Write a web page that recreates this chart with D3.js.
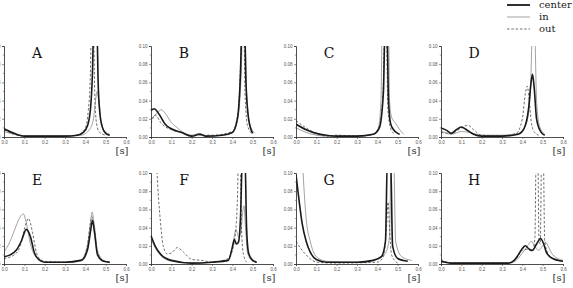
<!DOCTYPE html>
<html>
<head>
<meta charset="utf-8">
<script src="https://cdn.jsdelivr.net/npm/d3@7"></script>
<style>
  body { margin: 0; background: #fff; }
  svg { display: block; }
  .tick text { font-family: "Liberation Sans", sans-serif; font-size: 4.5px; fill: #555; }
  .serif { font-family: "DejaVu Serif", serif; }
</style>
</head>
<body>
<div id="chart"></div>
<script>
// panel letters and series names
const letters = ['A', 'B', 'C', 'D', 'E', 'F', 'G', 'H'];
const seriesNames = ['center', 'in', 'out'];
const xTicks = [0, 0.1, 0.2, 0.3, 0.4, 0.5, 0.6];
const yTicks = [0, 0.02, 0.04, 0.06, 0.08, 0.10];

// values, [time s, value]
const aCenter = [[0,0.009],[0.05,0.004],[0.1,0.001],[0.2,0.001],[0.3,0.001],[0.36,0.002],[0.39,0.005],[0.41,0.012],[0.425,0.03],[0.435,0.07],[0.441,0.12],[0.457,0.12],[0.463,0.06],[0.472,0.025],[0.482,0.012],[0.5,0.004],[0.52,0.002]];
const aIn = [[0,0.006],[0.05,0.003],[0.1,0.001],[0.3,0.001],[0.38,0.002],[0.42,0.008],[0.44,0.02],[0.45,0.04],[0.458,0.05],[0.466,0.04],[0.476,0.02],[0.49,0.008],[0.52,0.003]];
const aOut = [[0,0.008],[0.05,0.003],[0.1,0.001],[0.3,0.001],[0.37,0.003],[0.4,0.01],[0.415,0.03],[0.425,0.07],[0.43,0.12],[0.44,0.12],[0.446,0.05],[0.455,0.015],[0.47,0.005],[0.5,0.002]];

const bCenter = [[0,0.029],[0.015,0.031],[0.04,0.025],[0.07,0.014],[0.1,0.009],[0.15,0.005],[0.2,0.001],[0.24,0.003],[0.27,0.001],[0.35,0.002],[0.4,0.005],[0.425,0.02],[0.44,0.07],[0.447,0.12],[0.46,0.12],[0.467,0.06],[0.48,0.02],[0.5,0.004]];
const bIn = [[0,0.02],[0.03,0.026],[0.05,0.03],[0.07,0.026],[0.1,0.016],[0.13,0.01],[0.16,0.005],[0.2,0.002],[0.24,0.004],[0.27,0.001],[0.35,0.002],[0.4,0.005],[0.43,0.025],[0.445,0.08],[0.45,0.12],[0.462,0.12],[0.47,0.05],[0.485,0.015],[0.51,0.004]];
const bOut = [[0,0.015],[0.021,0.024],[0.05,0.015],[0.1,0.008],[0.15,0.005],[0.2,0.001],[0.24,0.002],[0.3,0.002],[0.4,0.006],[0.43,0.03],[0.442,0.09],[0.447,0.12],[0.457,0.12],[0.462,0.05],[0.475,0.012],[0.5,0.003]];

const cCenter = [[0,0.014],[0.05,0.008],[0.1,0.004],[0.15,0.002],[0.2,0.001],[0.3,0.001],[0.38,0.003],[0.41,0.01],[0.43,0.05],[0.438,0.12],[0.447,0.12],[0.455,0.04],[0.465,0.015],[0.48,0.008],[0.5,0.004],[0.51,0.003]];
const cIn = [[0,0.01],[0.05,0.005],[0.1,0.002],[0.15,0.001],[0.3,0.001],[0.38,0.003],[0.405,0.01],[0.418,0.04],[0.424,0.12],[0.455,0.12],[0.46,0.04],[0.47,0.022],[0.49,0.015],[0.51,0.008],[0.53,0.003]];
const cOut = [[0,0.018],[0.05,0.01],[0.1,0.004],[0.15,0.001],[0.2,0.002],[0.3,0.001],[0.38,0.003],[0.41,0.012],[0.428,0.05],[0.436,0.12],[0.444,0.12],[0.452,0.03],[0.465,0.01],[0.48,0.004]];

const dCenter = [[0,0.01],[0.03,0.007],[0.05,0.004],[0.075,0.008],[0.1,0.011],[0.125,0.008],[0.16,0.003],[0.2,0.001],[0.3,0.001],[0.38,0.003],[0.41,0.01],[0.43,0.03],[0.443,0.06],[0.45,0.069],[0.458,0.055],[0.47,0.02],[0.49,0.006],[0.51,0.002]];
const dIn = [[0,0.007],[0.05,0.003],[0.1,0.006],[0.14,0.005],[0.2,0.002],[0.3,0.002],[0.38,0.004],[0.42,0.015],[0.44,0.05],[0.45,0.12],[0.46,0.12],[0.47,0.04],[0.485,0.012],[0.51,0.003]];
const dOut = [[0,0.005],[0.05,0.004],[0.1,0.01],[0.132,0.013],[0.16,0.008],[0.2,0.002],[0.3,0.001],[0.37,0.004],[0.4,0.02],[0.415,0.048],[0.424,0.056],[0.432,0.045],[0.445,0.015],[0.46,0.005],[0.48,0.002]];

const eCenter = [[0,0.008],[0.03,0.01],[0.06,0.015],[0.085,0.025],[0.11,0.038],[0.13,0.03],[0.15,0.012],[0.17,0.005],[0.2,0.002],[0.3,0.002],[0.38,0.004],[0.41,0.015],[0.425,0.035],[0.435,0.048],[0.445,0.035],[0.46,0.01],[0.49,0.003],[0.52,0.002]];
const eIn = [[0,0.013],[0.03,0.025],[0.06,0.042],[0.08,0.052],[0.095,0.055],[0.11,0.045],[0.13,0.022],[0.15,0.01],[0.18,0.004],[0.2,0.002],[0.3,0.002],[0.38,0.005],[0.41,0.02],[0.425,0.045],[0.433,0.057],[0.443,0.045],[0.46,0.015],[0.49,0.004],[0.52,0.002]];
const eOut = [[0,0.006],[0.05,0.01],[0.08,0.02],[0.1,0.038],[0.12,0.05],[0.14,0.035],[0.16,0.012],[0.18,0.005],[0.2,0.003],[0.3,0.002],[0.38,0.004],[0.41,0.02],[0.425,0.045],[0.432,0.052],[0.442,0.04],[0.46,0.012],[0.49,0.003],[0.52,0.002]];

const fCenter = [[0,0.031],[0.02,0.02],[0.05,0.01],[0.1,0.004],[0.2,0.001],[0.3,0.002],[0.38,0.004],[0.4,0.018],[0.41,0.027],[0.42,0.022],[0.43,0.024],[0.44,0.05],[0.45,0.12],[0.462,0.12],[0.47,0.04],[0.48,0.012],[0.5,0.004],[0.52,0.002]];
const fIn = [[0,0.028],[0.02,0.018],[0.05,0.009],[0.1,0.003],[0.2,0.001],[0.3,0.002],[0.38,0.005],[0.405,0.025],[0.418,0.038],[0.43,0.03],[0.442,0.035],[0.45,0.055],[0.457,0.064],[0.465,0.04],[0.475,0.012],[0.5,0.003],[0.52,0.002]];
const fOut = [[0,0.3],[0.02,0.16],[0.03,0.1],[0.045,0.05],[0.06,0.02],[0.08,0.011],[0.1,0.012],[0.13,0.018],[0.16,0.013],[0.2,0.005],[0.25,0.004],[0.3,0.002],[0.38,0.006],[0.41,0.025],[0.425,0.07],[0.43,0.12],[0.438,0.12],[0.445,0.04],[0.455,0.01],[0.47,0.002]];

const gCenter = [[0,0.098],[0.015,0.07],[0.03,0.045],[0.05,0.025],[0.07,0.013],[0.1,0.005],[0.15,0.002],[0.3,0.002],[0.38,0.004],[0.42,0.008],[0.44,0.025],[0.45,0.12],[0.465,0.12],[0.475,0.02],[0.5,0.006],[0.55,0.003]];
const gIn = [[0,0.3],[0.02,0.18],[0.035,0.1],[0.05,0.05],[0.07,0.025],[0.1,0.008],[0.15,0.003],[0.3,0.002],[0.4,0.005],[0.44,0.012],[0.46,0.03],[0.468,0.12],[0.48,0.12],[0.49,0.025],[0.52,0.008],[0.57,0.004]];
const gOut = [[0,0.025],[0.03,0.015],[0.05,0.01],[0.08,0.004],[0.1,0.002],[0.2,0.001],[0.4,0.002],[0.43,0.008],[0.445,0.04],[0.453,0.068],[0.46,0.04],[0.47,0.01],[0.5,0.001]];

const hCenter = [[0,0.003],[0.05,0.001],[0.2,0.001],[0.33,0.001],[0.36,0.004],[0.38,0.01],[0.4,0.017],[0.415,0.02],[0.43,0.017],[0.45,0.015],[0.47,0.022],[0.49,0.028],[0.505,0.022],[0.52,0.012],[0.55,0.006],[0.6,0.003]];
const hIn = [[0,0.002],[0.05,0.001],[0.2,0.001],[0.34,0.001],[0.37,0.004],[0.4,0.012],[0.42,0.018],[0.445,0.025],[0.46,0.02],[0.48,0.015],[0.5,0.02],[0.515,0.024],[0.53,0.018],[0.55,0.01],[0.6,0.004]];
const hOut = [[0,0.005],[0.05,0.001],[0.2,0.001],[0.33,0.001],[0.37,0.006],[0.4,0.015],[0.42,0.016],[0.45,0.014],[0.462,0.03],[0.468,0.12],[0.476,0.12],[0.482,0.025],[0.488,0.022],[0.495,0.12],[0.503,0.12],[0.51,0.025],[0.53,0.01],[0.56,0.005],[0.6,0.003]];

const panelData = [
  [aCenter, aIn, aOut], [bCenter, bIn, bOut], [cCenter, cIn, cOut], [dCenter, dIn, dOut],
  [eCenter, eIn, eOut], [fCenter, fIn, fOut], [gCenter, gIn, gOut], [hCenter, hIn, hOut]
];

// layout
const W = 573, H = 288;
const colLeft = [4, 151, 296, 441];
const rowTop = [46, 173];
const pw = 122, ph = 91;

const styles = {
  center: { stroke: '#1a1a1a', width: 1.6, dash: null },
  in: { stroke: '#8a8a8a', width: 0.8, dash: null },
  out: { stroke: '#4a4a4a', width: 0.8, dash: '2.5,1.8' }
};

const svg = d3.select('#chart')
  .append('svg')
  .attr('width', W)
  .attr('height', H);

const x = d3.scaleLinear().domain([0, 0.6]).range([0, pw]);
const y = d3.scaleLinear().domain([0, 0.1]).range([ph, 0]);

const line = d3.line()
  .x(d => x(d[0]))
  .y(d => y(d[1]))
  .curve(d3.curveMonotoneX);

panelData.forEach((series, i) => {
  const col = i % 4, row = Math.floor(i / 4);
  const g = svg.append('g')
    .attr('transform', 'translate(' + colLeft[col] + ',' + rowTop[row] + ')');

  g.append('clipPath')
    .attr('id', 'clip' + i)
    .append('rect')
    .attr('x', 0).attr('y', 0)
    .attr('width', pw).attr('height', ph);

  // draw in, out, then center on top
  const order = [1, 2, 0];
  order.forEach(k => {
    const s = styles[seriesNames[k]];
    g.append('path')
      .datum(series[k])
      .attr('clip-path', 'url(#clip' + i + ')')
      .attr('fill', 'none')
      .attr('stroke', s.stroke)
      .attr('stroke-width', s.width)
      .attr('stroke-dasharray', s.dash)
      .attr('d', line);
  });

  const xAxis = g.append('g')
    .attr('transform', 'translate(0,' + ph + ')')
    .call(d3.axisBottom(x).tickValues(xTicks).tickFormat(d3.format('.1f')).tickSize(2).tickPadding(2));
  const yAxis = g.append('g')
    .call(d3.axisLeft(y).tickValues(yTicks).tickFormat(d3.format('.2f')).tickSize(2).tickPadding(1.5));
  [xAxis, yAxis].forEach(a => {
    a.select('.domain').attr('stroke', '#222').attr('stroke-width', 0.8);
    a.selectAll('.tick line').attr('stroke', '#444').attr('stroke-width', 0.6);
  });

  // minor ticks
  g.append('g')
    .selectAll('line')
    .data(d3.range(0.01, 0.1, 0.02))
    .enter()
    .append('line')
    .attr('x1', -1.2).attr('x2', 0)
    .attr('y1', d => y(d)).attr('y2', d => y(d))
    .attr('stroke', '#444').attr('stroke-width', 0.5);

  g.append('text')
    .attr('class', 'serif')
    .attr('x', 33)
    .attr('y', 12)
    .attr('text-anchor', 'middle')
    .style('font-size', '14px')
    .attr('fill', '#111')
    .text(letters[i]);

  g.append('text')
    .attr('class', 'serif')
    .attr('x', pw - 4)
    .attr('y', ph + 17)
    .attr('text-anchor', 'middle')
    .style('font-size', '10px')
    .attr('fill', '#333')
    .text('[s]');
});

// legend
const legend = svg.append('g');
seriesNames.forEach((name, k) => {
  const s = styles[name];
  const ly = 5 + k * 12;
  legend.append('line')
    .attr('x1', 507).attr('x2', 530)
    .attr('y1', ly).attr('y2', ly)
    .attr('stroke', s.stroke)
    .attr('stroke-width', name === 'center' ? 1.8 : 0.8)
    .attr('stroke-dasharray', s.dash);
  legend.append('text')
    .attr('class', 'serif')
    .attr('x', 539)
    .attr('y', ly)
    .attr('dy', '0.32em')
    .style('font-size', '10px')
    .attr('fill', '#222')
    .text(name);
});
</script>
</body>
</html>
